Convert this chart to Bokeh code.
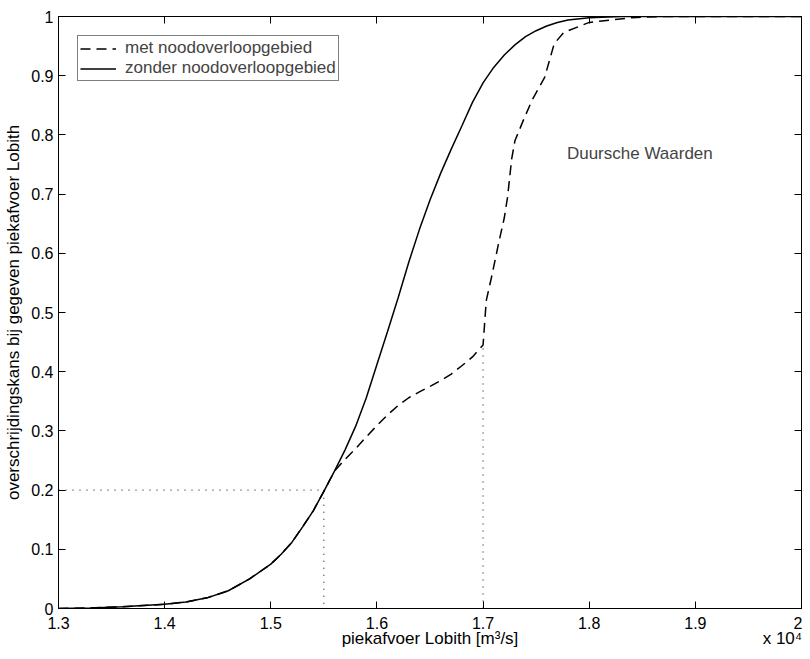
from bokeh.plotting import figure
from bokeh.models import LinearAxis, Label, Range1d, FixedTicker, AllLabels
from bokeh.embed import file_html
from bokeh.resources import INLINE

# ---- data ----
x_zonder = [1.30, 1.33, 1.36, 1.40, 1.42, 1.44, 1.46, 1.48, 1.50, 1.51, 1.52, 1.53, 1.54, 1.55,
            1.56, 1.57, 1.58, 1.59, 1.60, 1.61, 1.62, 1.63, 1.64, 1.65, 1.66, 1.67, 1.68, 1.69,
            1.70, 1.71, 1.72, 1.73, 1.74, 1.75, 1.76, 1.77, 1.78, 1.80, 1.83, 2.0]
y_zonder = [0.0, 0.001, 0.003, 0.007, 0.011, 0.018, 0.03, 0.05, 0.075, 0.092, 0.112, 0.138, 0.165,
            0.198, 0.232, 0.268, 0.308, 0.356, 0.412, 0.468, 0.525, 0.585, 0.64, 0.69, 0.735,
            0.776, 0.815, 0.855, 0.888, 0.914, 0.935, 0.952, 0.966, 0.976, 0.984, 0.99, 0.994,
            0.998, 1.0, 1.0]

x_met = [1.30, 1.33, 1.36, 1.40, 1.42, 1.44, 1.46, 1.48, 1.50, 1.51, 1.52, 1.53, 1.54, 1.55,
         1.56, 1.57, 1.58, 1.59, 1.60, 1.61, 1.62, 1.63, 1.64, 1.65, 1.66, 1.67, 1.68, 1.69,
         1.70, 1.703, 1.708, 1.715, 1.72, 1.723, 1.727, 1.73, 1.738, 1.746, 1.758, 1.767,
         1.776, 1.80, 1.84, 1.87, 2.0]
y_met = [0.0, 0.001, 0.003, 0.007, 0.011, 0.018, 0.03, 0.05, 0.075, 0.092, 0.112, 0.138, 0.165,
         0.198, 0.232, 0.252, 0.27, 0.29, 0.309, 0.327, 0.343, 0.356, 0.366, 0.375, 0.385,
         0.396, 0.41, 0.425, 0.445, 0.52, 0.56, 0.62, 0.66, 0.694, 0.76, 0.79, 0.825, 0.858,
         0.897, 0.954, 0.973, 0.99, 0.998, 1.0, 1.0]

ref1_x = [1.3, 1.55, 1.55]
ref1_y = [0.2, 0.2, 0.0]
ref2_x = [1.7, 1.7]
ref2_y = [0.0, 0.445]

x_ticks = [1.3, 1.4, 1.5, 1.6, 1.7, 1.8, 1.9, 2.0]
x_tick_labels = ["1.3", "1.4", "1.5", "1.6", "1.7", "1.8", "1.9", "2"]
y_ticks = [0.0, 0.1, 0.2, 0.3, 0.4, 0.5, 0.6, 0.7, 0.8, 0.9, 1.0]
y_tick_labels = ["0", "0.1", "0.2", "0.3", "0.4", "0.5", "0.6", "0.7", "0.8", "0.9", "1"]

# x-axis title row: axis label (centred) and the exponent note
xlabel_pos = [1.65, 1.982]
xlabel_texts = ["piekafvoer Lobith [m³/s]", "x 10⁴"]

FONT = "Liberation Sans"
FS = "16px"
FS_LABEL = "17px"

p = figure(width=802, height=651, x_range=Range1d(1.3, 2.0), y_range=Range1d(0, 1),
           output_backend="svg", toolbar_location=None,
           min_border_left=58, min_border_right=1, min_border_top=16, min_border_bottom=43)
p.xaxis.visible = False
p.yaxis.visible = False
p.grid.visible = False
p.outline_line_color = "black"
p.outline_line_width = 1
p.background_fill_color = "white"
p.border_fill_color = "white"


def style_axis(ax, ticks, labels, show_labels):
    ax.ticker = FixedTicker(ticks=ticks)
    ax.major_tick_in = 7
    ax.major_tick_out = 0
    ax.minor_tick_in = 0
    ax.minor_tick_out = 0
    ax.axis_line_color = "black"
    ax.major_tick_line_color = "black"
    ax.major_label_text_font = FONT
    ax.major_label_text_color = "black"
    if show_labels:
        ax.major_label_overrides = {t: l for t, l in zip(ticks, labels)}
        ax.major_label_text_font_size = FS
        ax.major_label_standoff = 5
    else:
        ax.major_label_overrides = {t: "" for t in ticks}
        ax.major_label_text_font_size = "0px"
        ax.major_label_standoff = 0


xb = LinearAxis()
style_axis(xb, x_ticks, x_tick_labels, True)
xb.major_label_standoff = 8
xb.major_label_policy = AllLabels()
p.add_layout(xb, "below")

# second row below the tick labels: the axis title and "x 10^4"
xb2 = LinearAxis()
xb2.ticker = FixedTicker(ticks=xlabel_pos)
xb2.major_label_overrides = {t: l for t, l in zip(xlabel_pos, xlabel_texts)}
xb2.major_label_policy = AllLabels()
xb2.major_tick_in = 0
xb2.major_tick_out = 0
xb2.minor_tick_in = 0
xb2.minor_tick_out = 0
xb2.major_tick_line_color = None
xb2.minor_tick_line_color = None
xb2.axis_line_color = None
xb2.major_label_standoff = -3
xb2.major_label_text_font = FONT
xb2.major_label_text_font_size = FS_LABEL
xb2.major_label_text_color = "black"
p.add_layout(xb2, "below")

yl = LinearAxis(axis_label="overschrijdingskans bij gegeven piekafvoer Lobith")
style_axis(yl, y_ticks, y_tick_labels, True)
yl.major_label_standoff = 5
yl.major_label_policy = AllLabels()
yl.axis_label_text_font = FONT
yl.axis_label_text_font_size = FS_LABEL
yl.axis_label_text_font_style = "normal"
yl.axis_label_text_color = "black"
yl.axis_label_standoff = 5
p.add_layout(yl, "left")

xt = LinearAxis()
style_axis(xt, x_ticks, x_tick_labels, False)
p.add_layout(xt, "above")

yr = LinearAxis()
style_axis(yr, y_ticks, y_tick_labels, False)
p.add_layout(yr, "right")

# reference dotted lines
p.line(ref1_x, ref1_y, line_color="black", line_width=1, line_dash="1 6")
p.line(ref2_x, ref2_y, line_color="black", line_width=1, line_dash="1 6")

p.line(x_met, y_met, line_color="black", line_width=1.5, line_dash="10 6",
       legend_label="met noodoverloopgebied")
p.line(x_zonder, y_zonder, line_color="black", line_width=1.5,
       legend_label="zonder noodoverloopgebied")

leg = p.legend[0]
leg.location = "top_left"
leg.margin = 19
leg.padding = 2
leg.spacing = 0
leg.label_height = 17
leg.glyph_height = 17
leg.glyph_width = 36
leg.label_standoff = 9
leg.label_text_font = FONT
leg.label_text_font_size = FS_LABEL
leg.border_line_color = "black"
leg.border_line_width = 1
leg.background_fill_alpha = 1

p.add_layout(Label(x=1.779, y=0.769, text="Duursche Waarden", text_font=FONT,
                   text_font_size=FS_LABEL, text_baseline="middle", text_align="left"))

open("out.html", "w").write(file_html(p, INLINE))
